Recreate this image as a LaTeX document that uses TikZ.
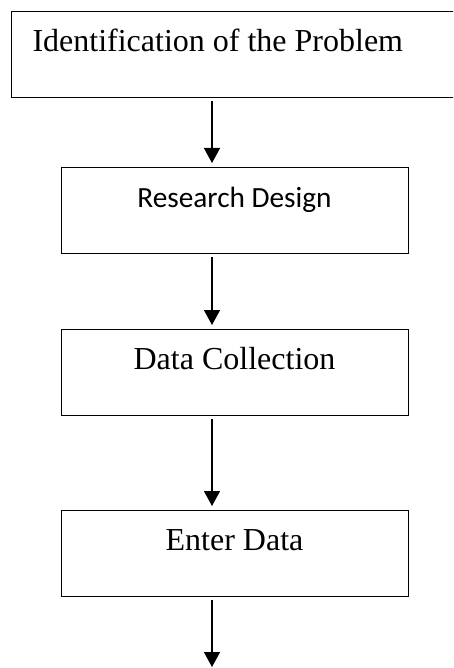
\documentclass[tikz,border=0pt]{standalone}
\usepackage{fontspec}
\setmainfont{Liberation Serif}
\newfontfamily\carlito{Carlito}
\usetikzlibrary{arrows.meta,positioning}

\begin{document}
\begin{tikzpicture}[x=1pt,y=-1pt,
    stepbox/.style={draw, line width=1pt, inner sep=0pt, minimum width=347pt,
        text height=40pt, text depth=46pt, font=\fontsize{32}{38}\selectfont},
    flow/.style={-{Triangle[width=16pt,length=15pt]}, line width=1.3pt,
        shorten <=3pt, shorten >=4pt},
    ]
\clip (0,0) rectangle (453,668);
\coordinate (ax) at (212,0);

\node[stepbox, anchor=north west, text width=560pt, align=flush left, inner xsep=21pt] (idp) at (11,11) {Identification of the Problem};
\node[stepbox, anchor=north, font={\carlito\fontsize{29.3}{35}\selectfont}] (rd) at (234.5,167) {Research Design};
\node[stepbox, below=75pt of rd] (dc) {Data Collection};
\node[stepbox, below=94pt of dc] (ed) {Enter Data};

\draw[flow] (idp.south -| ax) -- (rd.north -| ax);
\draw[flow] (rd.south -| ax) -- (dc.north -| ax);
\draw[flow] (dc.south -| ax) -- (ed.north -| ax);
\coordinate (tail) at (212,667);
\draw[flow, shorten >=0pt] (ed.south -| ax) -- (tail);

\end{tikzpicture}
\end{document}
